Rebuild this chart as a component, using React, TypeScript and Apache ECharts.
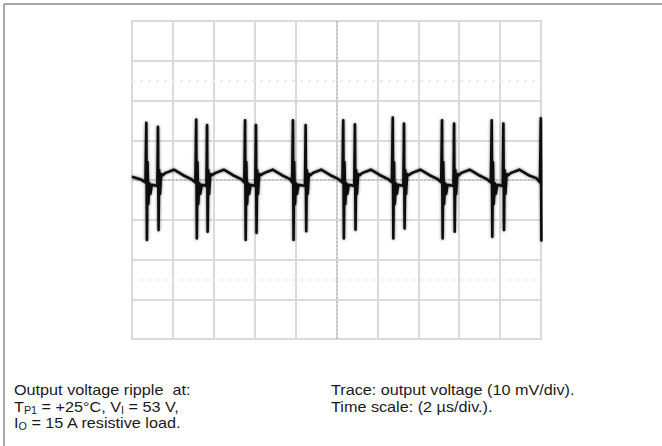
import React, { useEffect, useRef } from "react";
import * as echarts from "echarts";

// Time axis: 10 divisions of 2 µs; voltage axis: 8 divisions of 10 mV
const xTicks = [0, 2, 4, 6, 8, 10, 12, 14, 16, 18, 20];
const yTicks = [-40, -30, -20, -10, 0, 10, 20, 30, 40];

// Trace: [time µs, ripple mV]
const trace: [number, number][] = [
  [0, 0.8], [0.4, 0.2],
  [0.66, -0.6], [0.70, 14.4], [0.73, -15.1], [0.76, 4.5], [0.80, -6], [0.85, -0.8], [0.90, -3.5], [0.97, -1.2],
  [1.24, -1.5], [1.27, 13.4], [1.30, -12.6], [1.33, 2.5], [1.37, -3.5], [1.43, 1.5], [1.50, 1.2],
  [1.65, 1.8], [2.05, 2.6], [2.5, 1.2], [2.9, 0.2],
  [3.10, -0.6], [3.14, 15.2], [3.17, -14.7], [3.20, 4.5], [3.24, -6], [3.29, -0.8], [3.34, -3.5], [3.41, -1.2],
  [3.64, -1.5], [3.67, 13.8], [3.70, -13.0], [3.73, 2.5], [3.77, -3.5], [3.83, 1.5], [3.90, 1.2],
  [4.09, 1.8], [4.49, 2.6], [4.94, 1.2], [5.34, 0.2],
  [5.49, -0.6], [5.53, 15.0], [5.56, -15.1], [5.59, 4.5], [5.63, -6], [5.68, -0.8], [5.73, -3.5], [5.80, -1.2],
  [6.03, -1.5], [6.06, 13.8], [6.09, -13.3], [6.12, 2.5], [6.16, -3.5], [6.22, 1.5], [6.29, 1.2],
  [6.48, 1.8], [6.88, 2.6], [7.33, 1.2], [7.73, 0.2],
  [7.83, -0.6], [7.87, 15.0], [7.90, -15.1], [7.93, 4.5], [7.97, -6], [8.02, -0.8], [8.07, -3.5], [8.14, -1.2],
  [8.46, -1.5], [8.49, 13.8], [8.52, -12.9], [8.55, 2.5], [8.59, -3.5], [8.65, 1.5], [8.72, 1.2],
  [8.85, 1.8], [9.25, 2.6], [9.7, 1.2], [10.1, 0.2],
  [10.29, -0.6], [10.33, 15.0], [10.36, -14.7], [10.39, 4.5], [10.43, -6], [10.48, -0.8], [10.53, -3.5], [10.60, -1.2],
  [10.87, -1.5], [10.90, 14.0], [10.93, -12.5], [10.96, 2.5], [11.00, -3.5], [11.06, 1.5], [11.13, 1.2],
  [11.28, 1.8], [11.68, 2.6], [12.13, 1.2], [12.53, 0.2],
  [12.71, -0.6], [12.75, 15.7], [12.78, -14.7], [12.81, 4.5], [12.85, -6], [12.90, -0.8], [12.95, -3.5], [13.02, -1.2],
  [13.27, -1.5], [13.30, 14.2], [13.33, -12.2], [13.36, 2.5], [13.40, -3.5], [13.46, 1.5], [13.53, 1.2],
  [13.70, 1.8], [14.10, 2.6], [14.55, 1.2], [14.95, 0.2],
  [15.12, -0.6], [15.16, 15.0], [15.19, -14.7], [15.22, 4.5], [15.26, -6], [15.31, -0.8], [15.36, -3.5], [15.43, -1.2],
  [15.72, -1.5], [15.75, 14.2], [15.78, -13.0], [15.81, 2.5], [15.85, -3.5], [15.91, 1.5], [15.98, 1.2],
  [16.11, 1.8], [16.51, 2.6], [16.96, 1.2], [17.36, 0.2],
  [17.55, -0.6], [17.59, 15.0], [17.62, -14.3], [17.65, 4.5], [17.69, -6], [17.74, -0.8], [17.79, -3.5], [17.86, -1.2],
  [18.13, -1.5], [18.16, 14.2], [18.19, -12.6], [18.22, 2.5], [18.26, -3.5], [18.32, 1.5], [18.39, 1.2],
  [18.54, 1.8], [18.94, 2.6], [19.39, 1.2], [19.79, 0.4],
  [19.95, -0.6], [19.99, 15.5], [20.02, -15.5],
];

// Reference marks on the screen
const centerTime = [10];
const centerVolt = [0];
const markerVolts = [25, -25];

const captionLeft = [
  "{n|Output voltage ripple  at:}",
  "{n|T}{s|P1}{n| = +25°C, V}{s|I}{n| = 53 V,}",
  "{n|I}{s|O}{n| = 15 A resistive load.}",
];
const captionRight = [
  "Trace: output voltage (10 mV/div).",
  "Time scale: (2 µs/div.).",
];

export default function App() {
  const ref = useRef<HTMLDivElement>(null);
  useEffect(() => {
    if (!ref.current) return;
    const chart = echarts.init(ref.current, undefined, { renderer: "svg" });
    const font = "'Liberation Sans', Arial, sans-serif";
    const rich = {
      n: { fontSize: 15, fontFamily: font, fill: "#1a1a1a", color: "#1a1a1a", lineHeight: 18, verticalAlign: "middle" },
      s: { fontSize: 10, fontFamily: font, fill: "#1a1a1a", color: "#1a1a1a", lineHeight: 10, verticalAlign: "bottom" },
    };
    const lineYs = [390, 407, 423];
    const graphics: any[] = [
      { type: "line", shape: { x1: 4, y1: 4, x2: 662, y2: 4 }, style: { stroke: "#8a8a8a", lineWidth: 1.5 } },
      { type: "line", shape: { x1: 4, y1: 4, x2: 4, y2: 446 }, style: { stroke: "#8a8a8a", lineWidth: 1.5 } },
    ];
    captionLeft.forEach((t, i) => {
      graphics.push({
        type: "text", x: 14, y: lineYs[i], scaleX: 1.08,
        style: { text: t, rich, verticalAlign: "middle", align: "left" },
      });
    });
    captionRight.forEach((t, i) => {
      graphics.push({
        type: "text", x: 331, y: lineYs[i], scaleX: 1.08,
        style: { text: t, fontSize: 15, fontFamily: font, fill: "#1a1a1a", verticalAlign: "middle", align: "left" },
      });
    });
    chart.setOption({
      animation: false,
      backgroundColor: "#ffffff",
      grid: { left: 132, right: 121, top: 21, bottom: 107, show: true, borderColor: "#d2d2d2", borderWidth: 2 },
      xAxis: {
        type: "value", min: xTicks[0], max: xTicks[xTicks.length - 1], interval: 2,
        axisLabel: { show: false }, axisTick: { show: false }, axisLine: { show: false },
        splitLine: { show: true, lineStyle: { color: "#dadada", width: 2 } },
      },
      yAxis: {
        type: "value", min: yTicks[0], max: yTicks[yTicks.length - 1], interval: 10,
        axisLabel: { show: false }, axisTick: { show: false }, axisLine: { show: false },
        splitLine: { show: true, lineStyle: { color: "#dadada", width: 2 } },
      },
      graphic: graphics,
      series: [
        {
          type: "line",
          data: [],
          silent: true,
          z: 1,
          markLine: {
            silent: true, symbol: "none", label: { show: false }, z: 1,
            data: [
              ...centerTime.map((v) => ({ xAxis: v, lineStyle: { color: "#c4c4c4", width: 2, type: [2, 2] } })),
              ...centerVolt.map((v) => ({ yAxis: v, lineStyle: { color: "#c4c4c4", width: 2, type: [2, 2] } })),
              ...markerVolts.map((v) => ({ yAxis: v, lineStyle: { color: "#ececec", width: 2, type: [3, 5] } })),
            ],
          },
        },
        {
          type: "line",
          data: trace,
          z: 5,
          showSymbol: false,
          symbol: "none",
          clip: true,
          lineStyle: { color: "#101010", width: 2.6, shadowBlur: 3, shadowColor: "rgba(0,0,0,0.55)", join: "round" },
        },
      ],
    });
    return () => chart.dispose();
  }, []);
  return (
    <div
      ref={ref}
      style={{ position: "fixed", left: 0, top: 0, width: 662, height: 446, background: "#fff" }}
    />
  );
}
